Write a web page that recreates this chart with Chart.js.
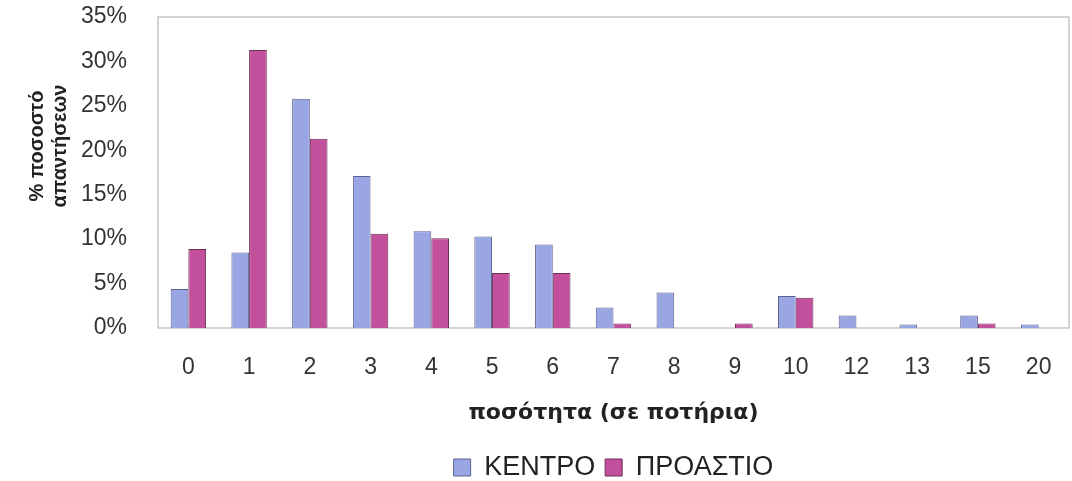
<!DOCTYPE html>
<html>
<head>
<meta charset="utf-8">
<script src="https://cdn.jsdelivr.net/npm/chart.js@4/dist/chart.umd.min.js"></script>
<style>
  html, body { margin: 0; padding: 0; background: #ffffff; }
  #wrap { width: 1072px; height: 481px; }
</style>
</head>
<body>
<div id="wrap"><canvas id="c" width="1072" height="481"></canvas></div>
<script>
// Glasses per respondent (x categories)
const categories = ['0', '1', '2', '3', '4', '5', '6', '7', '8', '9', '10', '12', '13', '15', '20'];
// Share of answers (%) per area
const kentro   = [4.4, 8.5, 25.8, 17.1, 10.9, 10.3, 9.4, 2.3, 4.0, 0, 3.6, 1.4, 0.4, 1.4, 0.4];
const proastio = [8.9, 31.3, 21.3, 10.6, 10.1, 6.2, 6.2, 0.5, 0, 0.5, 3.4, 0, 0, 0.5, 0];
const seriesNames = ['ΚΕΝΤΡΟ', 'ΠΡΟΑΣΤΙΟ'];
const yTitleLines = ['% ποσοστό', 'απαντήσεων'];
const xTitle = 'ποσότητα (σε ποτήρια)';
const yMax = 35;
const yStep = 5;

const FONT = '"Liberation Sans", Arial, sans-serif';
const WIDE = '"DejaVu Sans", Verdana, sans-serif';

// Light grey frame around the plot area
const plotFrame = {
  id: 'plotFrame',
  beforeDatasetsDraw(chart) {
    const { ctx, chartArea: a } = chart;
    ctx.save();
    ctx.strokeStyle = '#c6c6c6';
    ctx.lineWidth = 1.5;
    ctx.strokeRect(a.left, a.top, a.right - a.left, a.bottom - a.top);
    ctx.restore();
  }
};

// Two-line rotated title for the value axis
const valueAxisTitle = {
  id: 'valueAxisTitle',
  afterDraw(chart) {
    const ctx = chart.ctx;
    const xs = [37, 60];
    const cy = 146;
    ctx.save();
    ctx.fillStyle = '#222';
    ctx.font = 'bold 20px ' + FONT;
    ctx.textAlign = 'center';
    ctx.textBaseline = 'middle';
    yTitleLines.forEach((line, i) => {
      ctx.save();
      ctx.translate(xs[i], cy);
      ctx.rotate(-Math.PI / 2);
      ctx.fillText(line, 0, 0);
      ctx.restore();
    });
    ctx.restore();
  }
};

new Chart(document.getElementById('c'), {
  type: 'bar',
  data: {
    labels: categories,
    datasets: [
      {
        label: seriesNames[0],
        data: kentro,
        backgroundColor: '#9aa6e4',
        borderColor: '#5d6290',
        borderWidth: 1
      },
      {
        label: seriesNames[1],
        data: proastio,
        backgroundColor: '#c2509c',
        borderColor: '#6e2d58',
        borderWidth: 1
      }
    ]
  },
  options: {
    responsive: false,
    animation: false,
    devicePixelRatio: 1,
    layout: { padding: { left: 0, right: 3, top: 17, bottom: -10 } },
    datasets: {
      bar: { categoryPercentage: 0.583, barPercentage: 1.0 }
    },
    scales: {
      x: {
        grid: { display: false, drawTicks: true, tickLength: 26 },
        border: { display: false },
        ticks: {
          color: '#333',
          font: { family: FONT, size: 23 },
          padding: 0,
          maxRotation: 0,
          autoSkip: false
        },
        title: {
          display: true,
          text: xTitle,
          color: '#222',
          font: { family: WIDE, size: 22, weight: 'bold' },
          padding: { top: 0, bottom: 18 }
        },
        afterFit(scale) { scale.height = 116; }
      },
      y: {
        min: 0,
        max: yMax,
        grid: { display: false, drawTicks: true, tickLength: 31 },
        border: { display: false },
        ticks: {
          stepSize: yStep,
          color: '#333',
          font: { family: FONT, size: 23 },
          padding: 0,
          callback: v => v + '%'
        },
        afterFit(scale) { scale.width = 158; }
      }
    },
    plugins: {
      legend: {
        position: 'bottom',
        fullSize: false,
        labels: {
          color: '#222',
          font: { family: FONT, size: 27 },
          boxWidth: 17,
          boxHeight: 17,
          padding: 10
        }
      },
      tooltip: { enabled: false }
    }
  },
  plugins: [plotFrame, valueAxisTitle]
});
</script>
</body>
</html>
